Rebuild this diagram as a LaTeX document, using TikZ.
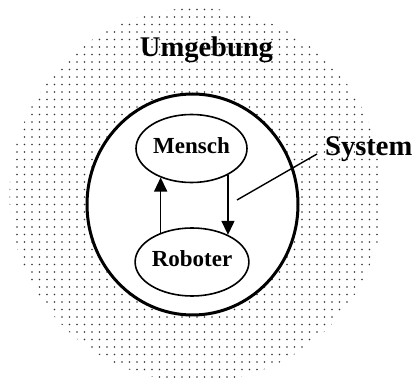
\documentclass[tikz,border=0pt]{standalone}
\usepackage{fontspec}
\setmainfont{Liberation Serif}
\usetikzlibrary{arrows.meta,shapes.geometric,calc}
\begin{document}
\begin{tikzpicture}[x=1pt,y=-1pt,
  biglabel/.style={font=\bfseries\fontsize{28.5}{30}\selectfont, inner sep=0pt},
  agent/.style={draw, ellipse, line width=1.6pt, fill=white, inner sep=0pt,
    minimum width=111pt, minimum height=68pt, text depth=6pt,
    font=\bfseries\fontsize{23}{25}\selectfont},
  flow/.style={-{Triangle[length=14pt,width=13pt]}, line width=1.4pt},
  dot/.style={fill=black!80}]
\useasboundingbox (0,0) rectangle (416,387);

% dotted environment disc
\begin{scope}
  \clip (196.5,195) circle (187);
  \foreach \i in {0,...,55}
    \foreach \j in {0,...,52}
      \fill[dot] (\i*7.5+2,\j*7.5+2) circle (0.85);
\end{scope}

% system boundary
\node (sys) [draw, ellipse, line width=3pt, fill=white, minimum width=211pt,
  minimum height=221pt, inner sep=0pt] at (192.5,204.5) {};

\node (env) [biglabel, anchor=base] at (206.5,57) {Umgebung};

\node (men) [agent] at (191.5,148.5) {Mensch};
\node (rob) [agent] at (192,262) {Roboter};

\draw[flow] (rob.137) -- (rob.137 |- men.223);
\draw[flow] (men.324) -- (men.324 |- rob.37);

% label for the system with its pointer
\node (syslbl) [biglabel, anchor=base west] at (325,156) {System};
\coordinate (ptr) at (237,200);
\draw[line width=1.4pt] (ptr) -- ($(syslbl.base west)+(-8,-2)$);
\end{tikzpicture}
\end{document}
